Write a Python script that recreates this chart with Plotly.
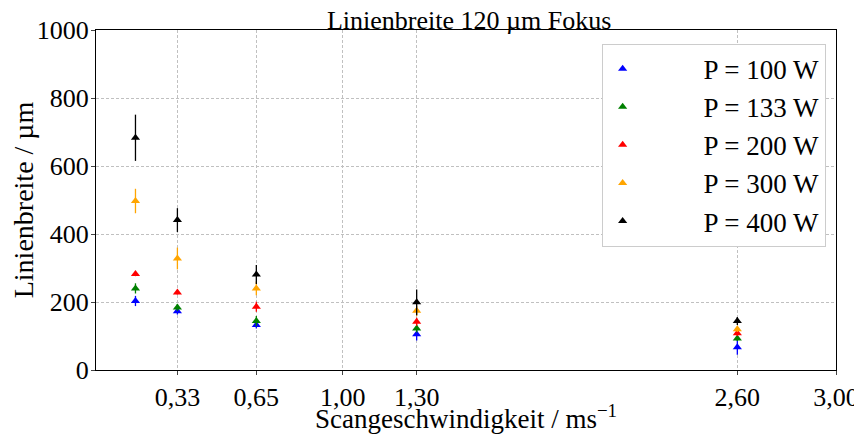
import plotly.graph_objects as go

speeds = [0.16, 0.33, 0.65, 1.30, 2.60]
powers = ["P = 100 W", "P = 133 W", "P = 200 W", "P = 300 W", "P = 400 W"]
colors = ["blue", "green", "red", "orange", "black"]

w100 = [203, 173, 132, 105, 67]
e100 = [15, 10, 10, 18, 22]
w133 = [240, 184, 144, 122, 93]
e133 = [15, 10, 15, 12, 8]
w200 = [282, 228, 186, 142, 108]
e200 = [6, 6, 15, 12, 8]
w300 = [497, 328, 240, 174, 120]
e300 = [36, 32, 20, 15, 8]
w400 = [683, 441, 281, 199, 144]
e400 = [68, 35, 28, 38, 12]

values = [w100, w133, w200, w300, w400]
errors = [e100, e133, e200, e300, e400]

x_ticks = [0.33, 0.65, 1.00, 1.30, 2.60, 3.00]
x_ticktext = ["0,33", "0,65", "1,00", "1,30", "2,60", "3,00"]
y_ticks = [0, 200, 400, 600, 800, 1000]

FONT = "Liberation Serif"
NB = "\u00a0" * 9

fig = go.Figure()
for name, col, vals, errs in zip(powers, colors, values, errors):
    fig.add_trace(go.Scatter(
        x=speeds, y=vals, mode="markers", name=NB + name,
        marker=dict(symbol="triangle-up", size=8, color=col),
        error_y=dict(type="data", array=errs, visible=True, color=col,
                     thickness=1.3, width=0),
    ))

fig.update_layout(
    width=854, height=426,
    margin=dict(l=88, r=26, t=22, b=64, autoexpand=False),
    paper_bgcolor="white", plot_bgcolor="white",
    font=dict(family=FONT, size=26, color="black"),
    title=dict(text="Linienbreite 120 µm Fokus", x=0.54, xanchor="center",
               y=0.972, yanchor="middle", font=dict(size=26)),
    showlegend=True,
    legend=dict(x=0.986, y=0.96, xanchor="right", yanchor="top",
                bgcolor="white", bordercolor="#cccccc", borderwidth=1,
                font=dict(size=27), itemsizing="trace",
                tracegroupgap=0),
    xaxis=dict(range=[0, 3], tickmode="array", tickvals=x_ticks,
               ticktext=x_ticktext, showgrid=True, gridcolor="#c0c0c0",
               griddash="3px,2px", gridwidth=0.8, showline=True, linecolor="black",
               linewidth=1, mirror=True, ticks="outside", ticklen=4,
               zeroline=False, automargin=False,
               title=dict(text="Scangeschwindigkeit / ms<sup>−1</sup>",
                          font=dict(size=27), standoff=5)),
    yaxis=dict(range=[0, 1000], tickmode="array", tickvals=y_ticks,
               showgrid=True, gridcolor="#c0c0c0", griddash="3px,2px",
               gridwidth=0.8, showline=True, linecolor="black", linewidth=1,
               mirror=True, ticks="outside", ticklen=4, zeroline=False,
               ticklabelstandoff=-3,
               automargin=False,
               title=dict(text="Linienbreite / µm", font=dict(size=28),
                          standoff=0)),
)

fig.write_html("out.html")
